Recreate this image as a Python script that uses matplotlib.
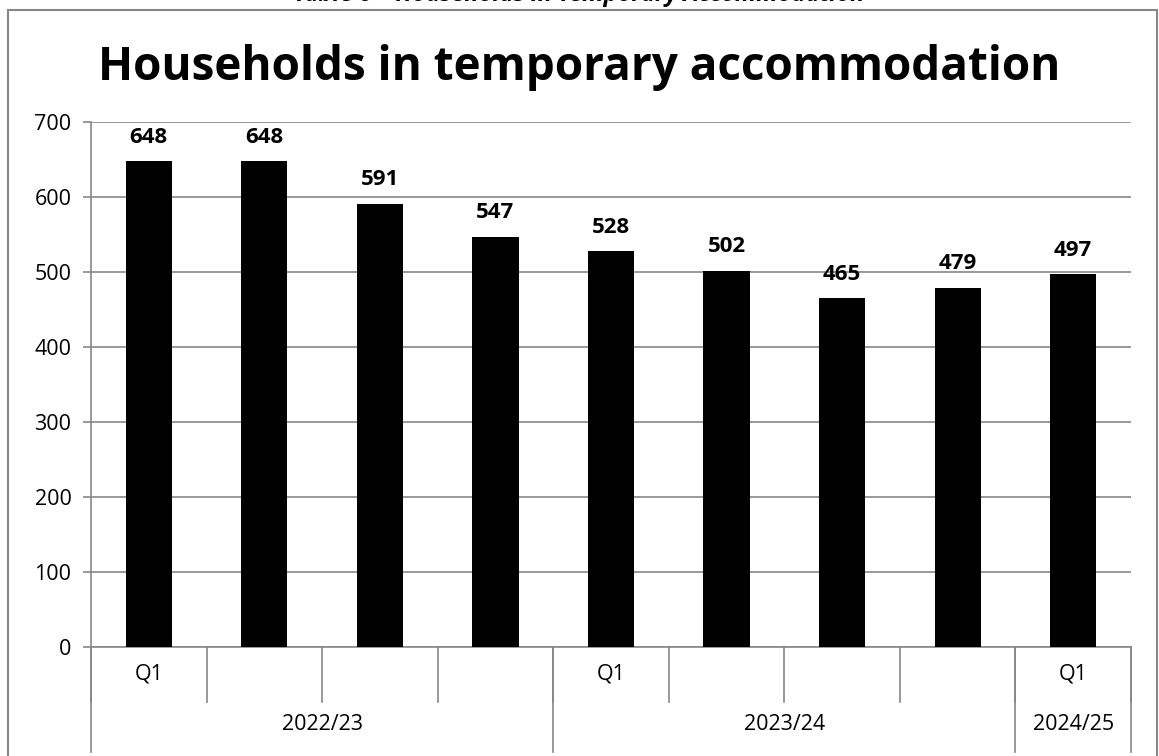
import numpy as np
import matplotlib
matplotlib.use('Agg')
import matplotlib.pyplot as plt
from matplotlib.patches import Rectangle
import matplotlib.transforms as mtransforms

plt.rcParams['font.family'] = ['Open Sans', 'DejaVu Sans']

# data
quarters = ['Q1', '', '', '', 'Q1', '', '', '', 'Q1']
years = ['2022/23', '2023/24', '2024/25']
year_sizes = [4, 4, 1]
households = [648, 648, 591, 547, 528, 502, 465, 479, 497]

grey = '#878787'

fig = plt.figure(figsize=(11.59, 7.56), dpi=100)
ax = fig.add_axes([0.0785, 0.1442, 0.8973, 0.6944])

x = np.arange(len(households))
ax.bar(x, households, width=0.4, color='black', zorder=3)
for xi, v in zip(x, households):
    ax.text(xi, v + 18, str(v), ha='center', va='bottom', fontsize=16,
            fontweight='bold', zorder=4)

ax.set_xlim(-0.5, len(households) - 0.5)
ax.set_ylim(0, 700)
ax.set_yticks(range(0, 701, 100))
ax.yaxis.grid(True, color=grey, linewidth=1.2, zorder=0)
ax.tick_params(axis='y', labelsize=15.5, length=6, color=grey, width=1.2, pad=8)
ax.set_xticks([])
for s in ['top', 'right']:
    ax.spines[s].set_visible(False)
for s in ['left', 'bottom']:
    ax.spines[s].set_color(grey)
    ax.spines[s].set_linewidth(1.2)

# multi-level category axis
trans = mtransforms.blended_transform_factory(ax.transData, ax.transAxes)
for b in np.arange(len(households) + 1) - 0.5:
    ax.plot([b, b], [0, -0.105], color=grey, lw=1.2, transform=trans, clip_on=False)
for xi, q in zip(x, quarters):
    ax.text(xi, -0.052, q, ha='center', va='center', fontsize=15.5, transform=trans)
start = -0.5
for yr, n in zip(years, year_sizes):
    ax.plot([start, start], [0, -0.2], color=grey, lw=1.2, transform=trans, clip_on=False)
    ax.text(start + n / 2, -0.148, yr, ha='center', va='center', fontsize=15.5, transform=trans)
    start += n
ax.plot([start, start], [0, -0.2], color=grey, lw=1.2, transform=trans, clip_on=False)

# chart border and titles
fig.patches.append(Rectangle((0.007, -0.01), 0.991, 0.997, transform=fig.transFigure,
                             fill=False, edgecolor=grey, lw=1.5))
fig.text(0.5, 0.911, 'Households in temporary accommodation', ha='center', va='center',
         fontsize=33, fontweight='bold')
fig.text(0.5, 1.006, 'Table 6 – Households in Temporary Accommodation', ha='center',
         va='center', fontsize=17, fontweight='bold', style='italic')

fig.savefig('out.png', dpi=100)
